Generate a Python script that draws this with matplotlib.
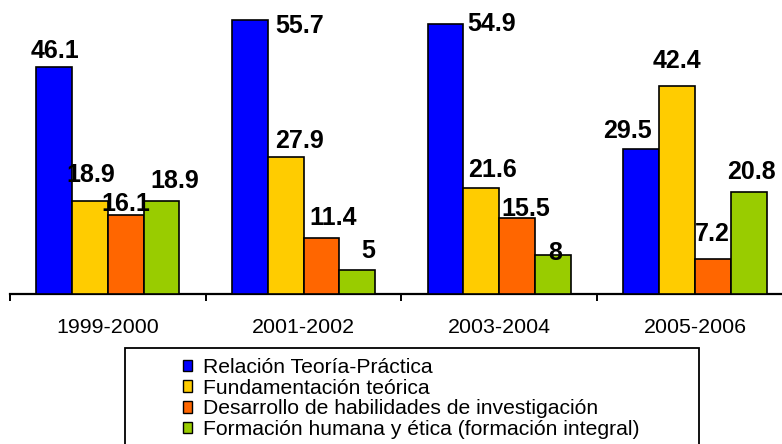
import matplotlib
matplotlib.use("Agg")
import matplotlib.pyplot as plt
from matplotlib.patches import Rectangle
import numpy as np

periods = ["1999-2000", "2001-2002", "2003-2004", "2005-2006"]
series_names = [
    "Relación Teoría-Práctica",
    "Fundamentación teórica",
    "Desarrollo de habilidades de investigación",
    "Formación humana y ética (formación integral)",
]
relacion = [46.1, 55.7, 54.9, 29.5]
fundamentacion = [18.9, 27.9, 21.6, 42.4]
desarrollo = [16.1, 11.4, 15.5, 7.2]
formacion = [18.9, 5, 8, 20.8]
series_values = [relacion, fundamentacion, desarrollo, formacion]
colors = ["#0000FF", "#FFCC00", "#FF6600", "#99CC00"]

# label offsets in pixels (dx, dy) per series, per period, mimicking the reference placement
label_offsets = [
    [(1, 9), (49.5, -13), (46, -7), (-14, 11)],
    [(0.5, 19), (14, 9), (11.5, 11), (0, 18)],
    [(0.5, 4), (11.5, 13), (9, 2), (-0.5, 18)],
    [(13, 13), (10.5, 12), (2.5, -5), (2.5, 12.7)],
]

W, H = 782, 444
fig = plt.figure(figsize=(W / 100, H / 100), dpi=100)
base_y = 294.3
ax = fig.add_axes([10 / W, (H - base_y) / H, 4 * 195.7 / W, base_y / H])
ax.set_xlim(-0.5, 3.5)
ax.set_ylim(0, base_y / 4.92)

x = np.arange(len(periods))
bw = 0.183
for i, (vals, col) in enumerate(zip(series_values, colors)):
    xs = x + (i - 1.5) * bw
    ax.bar(xs, vals, width=bw, color=col, edgecolor="black", linewidth=1.2, zorder=3)
    for j, (xx, v) in enumerate(zip(xs, vals)):
        dx, dy = label_offsets[i][j]
        ax.annotate(f"{v:g}", xy=(xx, v), xytext=(dx, dy), textcoords="offset pixels",
                    ha="center", va="baseline", fontsize=18, fontweight="bold",
                    family="Liberation Sans", color="black", zorder=5,
                    annotation_clip=False)

for s in ["top", "right", "left"]:
    ax.spines[s].set_visible(False)
ax.spines["bottom"].set_linewidth(1.6)
ax.spines["bottom"].set_color("black")
ax.set_yticks([])
ax.set_xticks(x)
ax.set_xticklabels(periods, fontsize=15.4, family="Liberation Sans")
ax.tick_params(axis="x", which="major", length=0, pad=17)
ax.set_xticks(np.arange(-0.5, 3.6, 1.0), minor=True)
ax.tick_params(axis="x", which="minor", length=5, width=1.4, color="black", direction="out")

# legend
fs = 15.2
em = fs * 100 / 72
handles = [Rectangle((0, 0), 1, 1, facecolor=c, edgecolor="black", linewidth=1.0) for c in colors]
leg = fig.legend(handles, series_names, loc="upper left",
                 bbox_to_anchor=(182.7 / W, 1 - 358 / H),
                 frameon=False, borderpad=0, borderaxespad=0,
                 handlelength=9.5 / em, handleheight=9.5 / em, handletextpad=10.8 / em,
                 labelspacing=0.08, prop={"family": "Liberation Sans", "size": fs})
box = Rectangle((125 / W, -0.05), (699 - 125) / W, 0.05 + (H - 347.5) / H,
                transform=fig.transFigure, facecolor="none", edgecolor="black",
                linewidth=1.3, clip_on=False)
fig.add_artist(box)

fig.savefig("out.png", dpi=100)
